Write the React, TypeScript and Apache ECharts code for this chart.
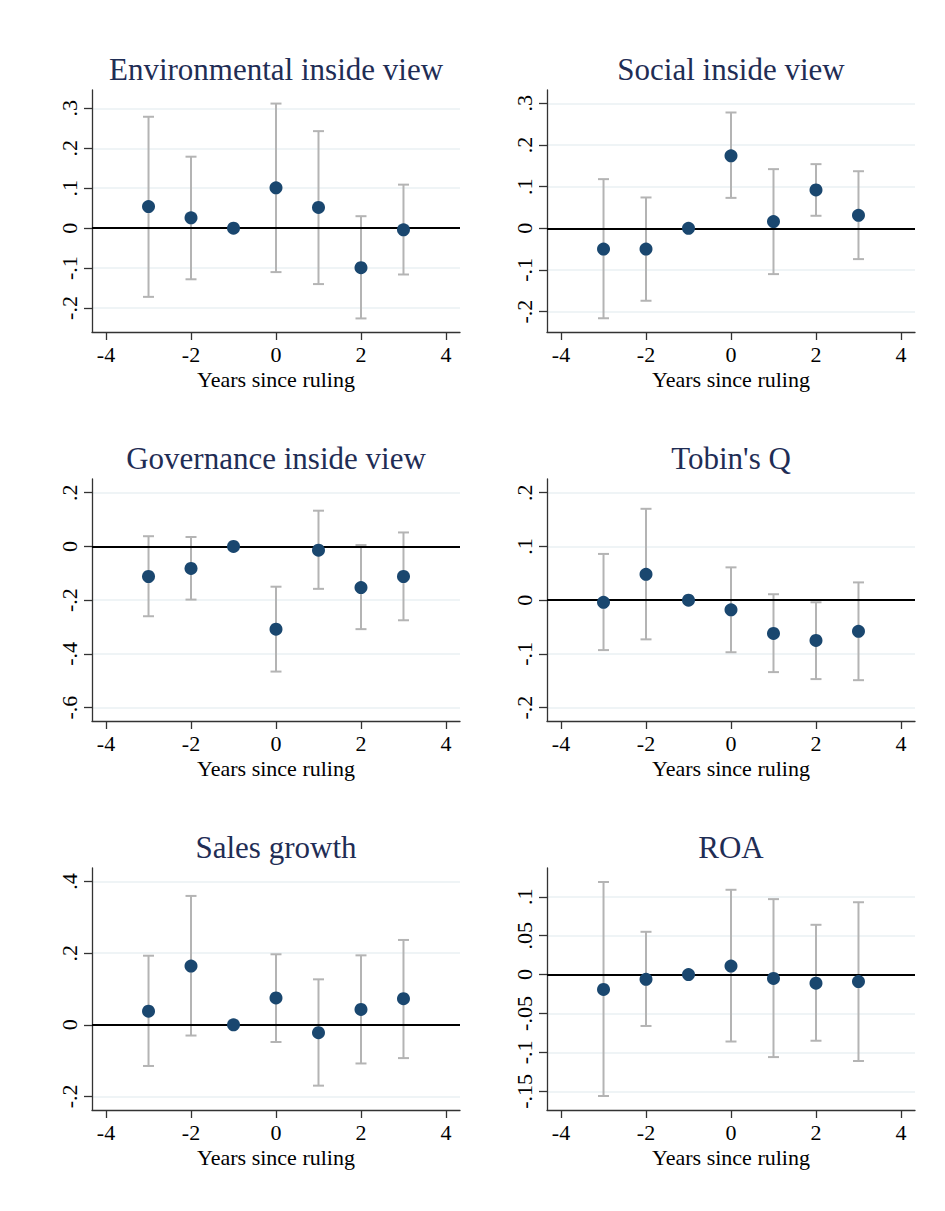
import React, { useEffect, useRef } from "react";
import * as echarts from "echarts";

const titles = [
  "Environmental inside view",
  "Social inside view",
  "Governance inside view",
  "Tobin's Q",
  "Sales growth",
  "ROA",
];

const years = [-3, -2, -1, 0, 1, 2, 3];
const xTicks = [-4, -2, 0, 2, 4];
const xName = "Years since ruling";

// point estimates and confidence bounds
const envEst = [0.054, 0.026, 0, 0.101, 0.052, -0.099, -0.004];
const envLo = [-0.172, -0.128, null, -0.11, -0.14, -0.226, -0.116];
const envHi = [0.279, 0.179, null, 0.312, 0.243, 0.03, 0.109];

const socEst = [-0.05, -0.05, 0, 0.174, 0.016, 0.092, 0.031];
const socLo = [-0.216, -0.174, null, 0.073, -0.11, 0.03, -0.074];
const socHi = [0.118, 0.074, null, 0.278, 0.142, 0.154, 0.137];

const govEst = [-0.112, -0.082, 0, -0.308, -0.014, -0.153, -0.112];
const govLo = [-0.26, -0.198, null, -0.466, -0.158, -0.308, -0.275];
const govHi = [0.038, 0.035, null, -0.15, 0.133, 0.005, 0.052];

const tqEst = [-0.004, 0.048, 0, -0.018, -0.062, -0.075, -0.058];
const tqLo = [-0.093, -0.073, null, -0.097, -0.134, -0.147, -0.149];
const tqHi = [0.086, 0.17, null, 0.061, 0.011, -0.004, 0.033];

const sgEst = [0.038, 0.164, 0, 0.075, -0.022, 0.043, 0.073];
const sgLo = [-0.115, -0.03, null, -0.048, -0.17, -0.108, -0.093];
const sgHi = [0.193, 0.36, null, 0.197, 0.127, 0.194, 0.237];

const roaEst = [-0.019, -0.006, 0, 0.011, -0.005, -0.011, -0.009];
const roaLo = [-0.156, -0.066, null, -0.086, -0.106, -0.085, -0.111];
const roaHi = [0.119, 0.055, null, 0.109, 0.097, 0.064, 0.093];

const yTicks = [
  [-0.2, -0.1, 0, 0.1, 0.2, 0.3],
  [-0.2, -0.1, 0, 0.1, 0.2, 0.3],
  [-0.6, -0.4, -0.2, 0, 0.2],
  [-0.2, -0.1, 0, 0.1, 0.2],
  [-0.2, 0, 0.2, 0.4],
  [-0.15, -0.1, -0.05, 0, 0.05, 0.1],
];

const yMin = [-0.26, -0.249, -0.65, -0.225, -0.238, -0.174];
const yMax = [0.346, 0.332, 0.251, 0.2255, 0.438, 0.137];

const panels = [
  [envEst, envLo, envHi],
  [socEst, socLo, socHi],
  [govEst, govLo, govHi],
  [tqEst, tqLo, tqHi],
  [sgEst, sgLo, sgHi],
  [roaEst, roaLo, roaHi],
];

const FONT = "'Liberation Serif', 'Times New Roman', serif";
const NAVY = "#1a476f";
const TITLE_COLOR = "#1f2d55";
const GRID_COLOR = "#eaf1f3";
const BAR_COLOR = "#b4b4b4";
const AXIS_COLOR = "#333333";

const stataFmt = (v: number) => {
  const s = String(Number(v.toFixed(2)));
  return s.replace(/^(-?)0\./, "$1.");
};

export default function App() {
  const ref = useRef<HTMLDivElement>(null);

  useEffect(() => {
    if (!ref.current) return;
    const chart = echarts.init(ref.current, null, { renderer: "svg" });

    const colLeft = [92, 547];
    const rowTop = [90, 479, 868];
    const W = 368;
    const H = 242;

    const grids: any[] = [];
    const xAxes: any[] = [];
    const yAxes: any[] = [];
    const series: any[] = [];
    const graphics: any[] = [];

    panels.forEach((p, i) => {
      const col = i % 2;
      const row = Math.floor(i / 2);
      const left = colLeft[col];
      const top = rowTop[row];
      grids.push({ left, top, width: W, height: H, containLabel: false });

      xAxes.push({
        type: "value",
        gridIndex: i,
        min: -4.33,
        max: 4.33,
        name: xName,
        nameLocation: "middle",
        nameGap: 36,
        nameTextStyle: { fontFamily: FONT, fontSize: 22, color: "#000" },
        axisLine: { show: true, onZero: false, lineStyle: { color: AXIS_COLOR, width: 1.3 } },
        axisTick: { show: true, inside: false, length: 8, customValues: xTicks, lineStyle: { color: AXIS_COLOR, width: 1.3 } },
        axisLabel: { customValues: xTicks, margin: 11, fontFamily: FONT, fontSize: 22, color: "#000", formatter: (v: number) => String(v) },
        splitLine: { show: false },
      });

      yAxes.push({
        type: "value",
        gridIndex: i,
        min: yMin[i],
        max: yMax[i],
        axisLine: { show: true, onZero: false, lineStyle: { color: AXIS_COLOR, width: 1.3 } },
        axisTick: { show: true, inside: false, length: 8, customValues: yTicks[i], lineStyle: { color: AXIS_COLOR, width: 1.3 } },
        axisLabel: {
          customValues: yTicks[i],
          rotate: 90,
          margin: 12,
          fontFamily: FONT,
          fontSize: 22,
          color: "#000",
          formatter: (v: number) => stataFmt(v),
        },
        splitLine: { show: true, lineStyle: { color: GRID_COLOR, width: 1.5 } },
      });

      const [est, lo, hi] = p;
      const ciData = years
        .map((y, k) => (lo[k] === null ? null : [y, lo[k], hi[k]]))
        .filter((d) => d !== null);

      series.push({
        type: "custom",
        xAxisIndex: i,
        yAxisIndex: i,
        z: 2,
        silent: true,
        data: ciData,
        encode: { x: 0, y: [1, 2] },
        renderItem: (params: any, api: any) => {
          const x = api.value(0);
          const l = api.value(1);
          const h = api.value(2);
          const pt = api.coord([x, h]);
          const pb = api.coord([x, l]);
          const hw = 5.5;
          const st = { stroke: BAR_COLOR, lineWidth: 2 };
          return {
            type: "group",
            children: [
              { type: "line", shape: { x1: pt[0], y1: pt[1], x2: pb[0], y2: pb[1] }, style: st },
              { type: "line", shape: { x1: pt[0] - hw, y1: pt[1], x2: pt[0] + hw, y2: pt[1] }, style: st },
              { type: "line", shape: { x1: pb[0] - hw, y1: pb[1], x2: pb[0] + hw, y2: pb[1] }, style: st },
            ],
          };
        },
      });

      series.push({
        type: "scatter",
        xAxisIndex: i,
        yAxisIndex: i,
        z: 4,
        symbol: "circle",
        symbolSize: 13,
        itemStyle: { color: NAVY, opacity: 1 },
        data: years.map((y, k) => [y, est[k]]),
        markLine: {
          silent: true,
          symbol: ["none", "none"],
          label: { show: false },
          lineStyle: { color: "#000", width: 1.8, type: "solid" },
          z: 3,
          data: [{ yAxis: 0 }],
        },
      });

      graphics.push({
        type: "text",
        x: left + W / 2,
        y: top - 21,
        style: {
          text: titles[i],
          fontFamily: FONT,
          fontSize: 31,
          fill: TITLE_COLOR,
          textAlign: "center",
          textVerticalAlign: "middle",
        },
      });
    });

    chart.setOption({
      animation: false,
      backgroundColor: "#ffffff",
      grid: grids,
      xAxis: xAxes,
      yAxis: yAxes,
      series,
      graphic: graphics,
    });

    return () => chart.dispose();
  }, []);

  return (
    <div
      ref={ref}
      style={{ position: "absolute", left: 0, top: 0, width: 945, height: 1211, background: "#fff" }}
    />
  );
}
